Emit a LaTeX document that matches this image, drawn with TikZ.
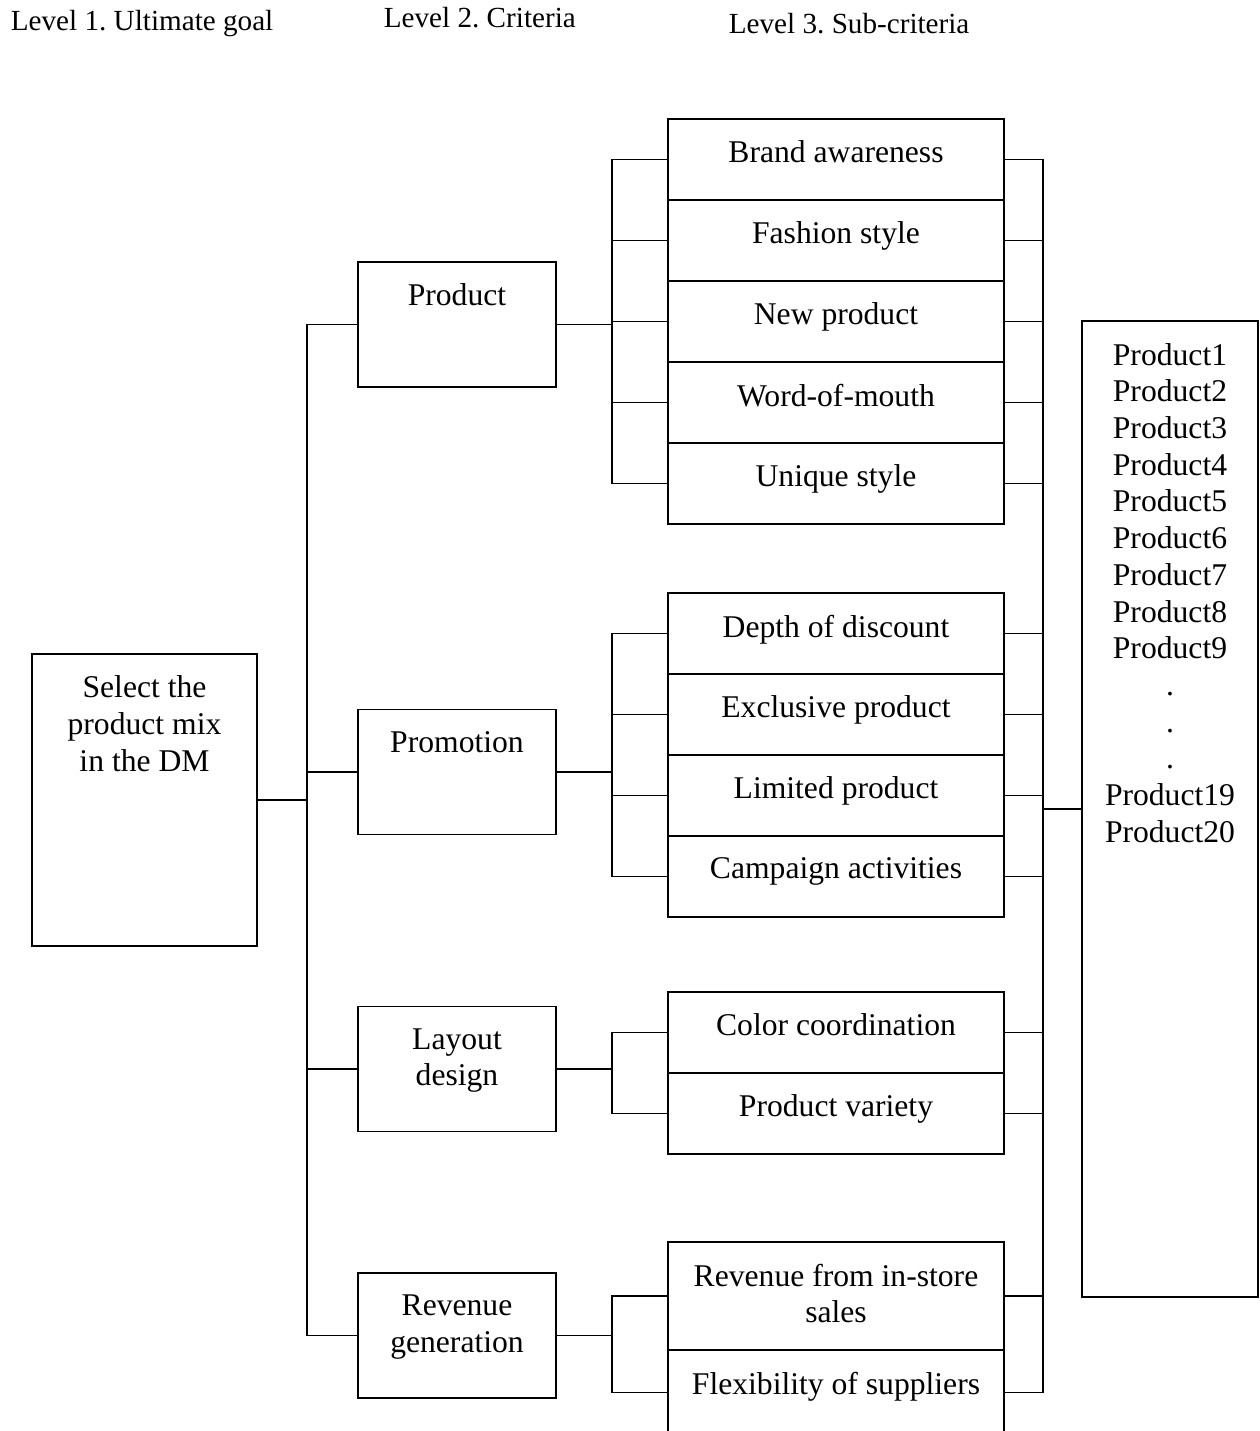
\documentclass[tikz,border=0pt]{standalone}
\usepackage{fontspec}
\setmainfont{Liberation Serif}
\frenchspacing
\usetikzlibrary{positioning}
\tikzstyle{B} = [rectangle,draw=black,inner sep=0pt,outer sep=0pt]
\tikzstyle{C} = [B,minimum width=3.96cm,minimum height=2.5cm]
\tikzstyle{S} = [B,minimum width=6.72cm,minimum height=1.62cm]
\tikzstyle{T} = [anchor=north,yshift=-12pt,align=center,inner sep=0pt]
\tikzstyle{L} = [anchor=west,inner sep=0pt,font=\fontsize{16.6}{19}\selectfont]

\begin{document}
\begin{tikzpicture}[x=0.02cm,y=-0.02cm,line width=1pt,font=\fontsize{18}{20.9}\selectfont]
  \path [use as bounding box,clip] (0,0) rectangle (1259,1431);

  \node [L] (l1) at (10,24) {Level 1. Ultimate goal};
  \node [L] (l2) at (383,18) {Level 2. Criteria};
  \node [L] (l3) at (728,24) {Level 3. Sub-criteria};

  \node [B,minimum width=4.5cm,minimum height=5.84cm,
  label={[T]north:Select the\\product mix\\in the DM}] (n1) at (144.5,800) {};

  \node [C,label={[T]north:Product}] (n2) at (457,324.5) {};
  \node [C,label={[T]north:Promotion}] (n3) at (457,772) {};
  \node [C,label={[T]north:Layout\\design}] (n4) at (457,1069) {};
  \node [C,label={[T]north:Revenue\\generation}] (n5) at (457,1335.5) {};
  \draw (n1.east) -- ++(50,0) coordinate (bus1);
  \draw (n2.west) -| (bus1) |- (n5.west);
  \draw (n3.west) -- (n3.west -| bus1);
  \draw (n4.west) -- (n4.west -| bus1);

  \node [S,label={[T]north:Brand awareness}] (n6) at (836,159.5) {};
  \node [S,below=0pt of n6,label={[T]north:Fashion style}] (n7) {};
  \node [S,below=0pt of n7,label={[T]north:New product}] (n8) {};
  \node [S,below=0pt of n8,label={[T]north:Word-of-mouth}] (n9) {};
  \node [S,below=0pt of n9,label={[T]north:Unique style}] (n10) {};
  \draw (n2.east) -- ++(56,0);
  \draw (n6.west) -- ++(-56,0) |- (n10.west);
  \foreach \i in {7,8,9} \draw (n\i.west) -- ++(-56,0);

  \node [S,label={[T]north:Depth of discount}] (n11) at (836,633.5) {};
  \node [S,below=0pt of n11,label={[T]north:Exclusive product}] (n12) {};
  \node [S,below=0pt of n12,label={[T]north:Limited product}] (n13) {};
  \node [S,below=0pt of n13,label={[T]north:Campaign activities}] (n14) {};
  \draw (n3.east) -- ++(56,0);
  \draw (n11.west) -- ++(-56,0) |- (n14.west);
  \foreach \i in {12,13} \draw (n\i.west) -- ++(-56,0);

  \node [S,label={[T]north:Color coordination}] (n15) at (836,1032.5) {};
  \node [S,below=0pt of n15,label={[T]north:Product variety}] (n16) {};
  \draw (n4.east) -- ++(56,0);
  \draw (n15.west) -- ++(-56,0) |- (n16.west);

  \node [S,minimum height=2.16cm,label={[T]north:Revenue from in-store\\sales}] (n17) at (836,1296) {};
  \node [S,minimum height=1.7cm,below=0pt of n17,label={[T]north:Flexibility of suppliers}] (n18) {};
  \draw (n5.east) -- ++(56,0);
  \draw (n17.west) -- ++(-56,0) |- (n18.west);

  % alternatives
  \node [B,minimum width=3.52cm,minimum height=19.52cm,
  label={[T]north:Product1\\Product2\\Product3\\Product4\\Product5\\Product6\\Product7\\Product8\\Product9\\.\\.\\.\\Product19\\Product20}] (n19) at (1170,809) {};
  \draw (n6.east) -- ++(39,0) |- (n18.east);
  \foreach \i in {7,...,17} \draw (n\i.east) -- ++(39,0);
  \draw (n19.west) -- ++(-39,0);

\end{tikzpicture}
\end{document}
